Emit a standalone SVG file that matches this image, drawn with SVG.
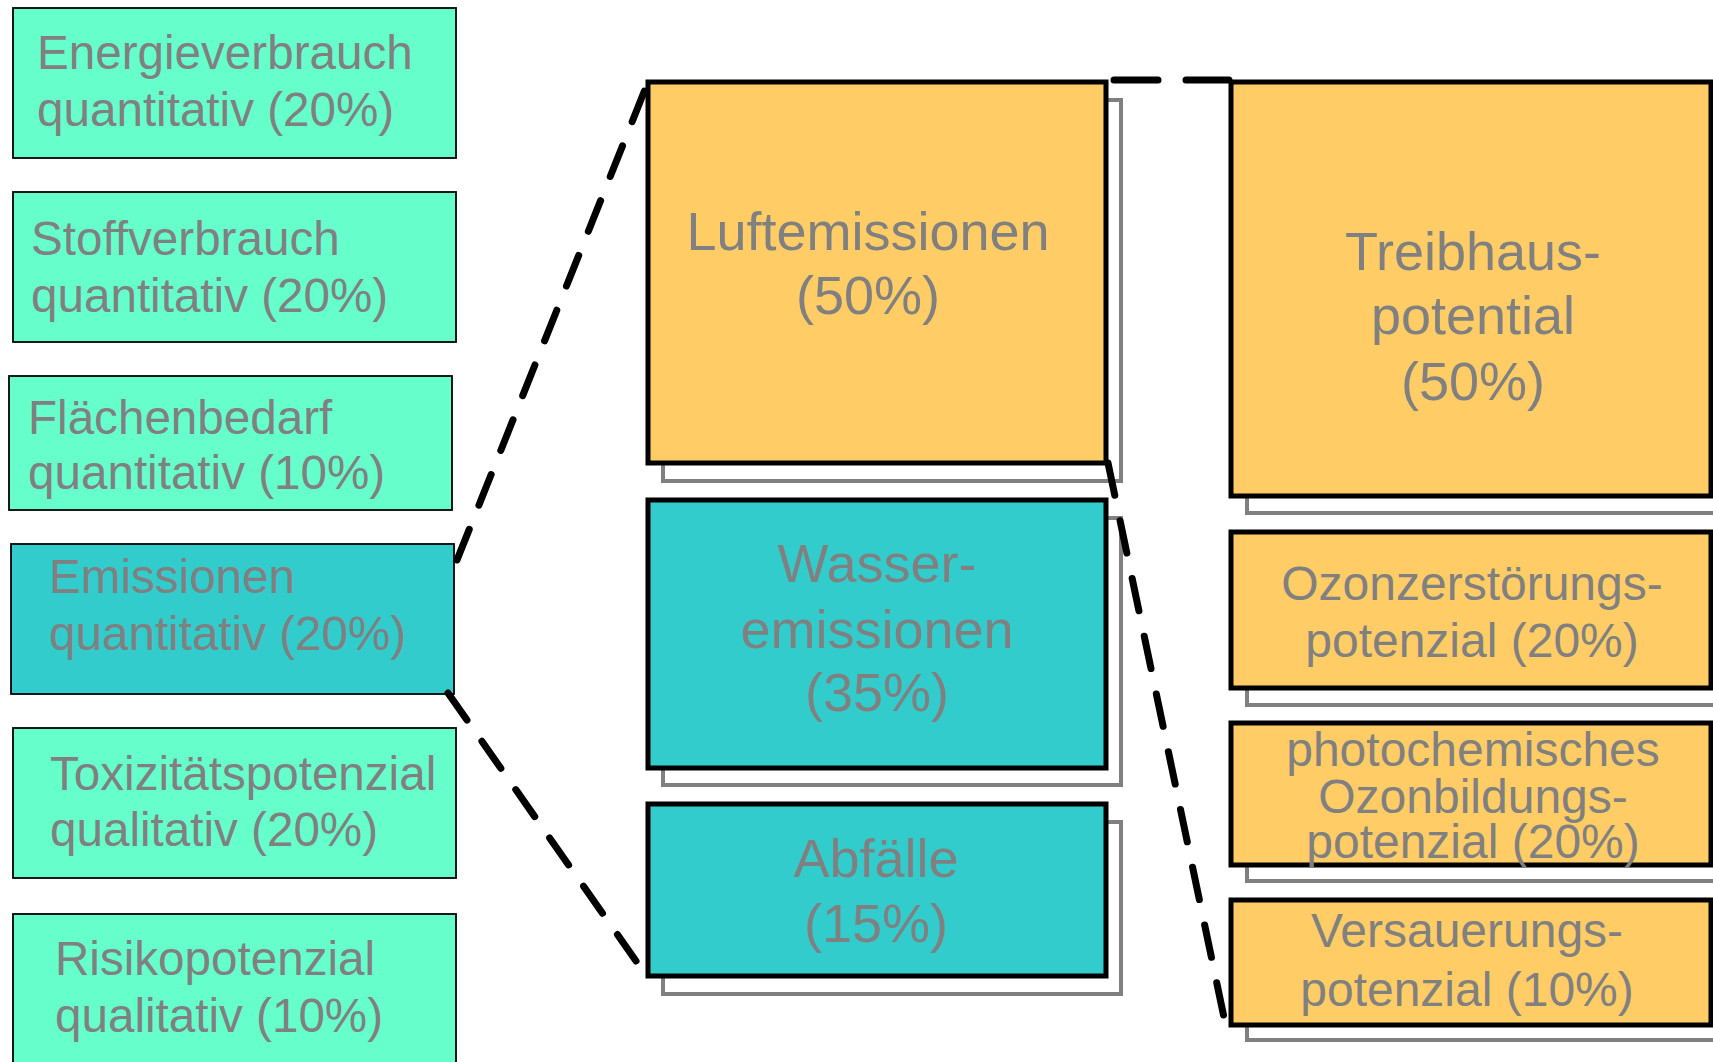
<svg xmlns="http://www.w3.org/2000/svg" width="1713" height="1062" viewBox="0 0 1713 1062">
<style>
.lb{fill:#66FFCC;stroke:#000;stroke-width:1.8}
.lb2{fill:#33CCCC;stroke:#000;stroke-width:1.8}
.sh{fill:#fff;stroke:#808080;stroke-width:4}
.ob{fill:#FFCC66;stroke:#000;stroke-width:5}
.tb{fill:#33CCCC;stroke:#000;stroke-width:5}
text{font-family:"Liberation Sans",Arial,sans-serif;fill:#808080}
.lt{font-size:47.6px}
.mt{font-size:54px;text-anchor:middle}
.st{font-size:48px;text-anchor:middle}
.con{fill:none;stroke:#000;stroke-width:7;stroke-dasharray:33 26;stroke-linecap:round}
.con2{stroke-dasharray:44 28}
</style>
<g id="energie"><rect class="lb" x="13" y="8" width="443" height="150"/><text class="lt" x="37" y="69">Energieverbrauch</text><text class="lt" x="37" y="126">quantitativ (20%)</text></g>
<g id="stoff"><rect class="lb" x="13" y="192" width="443" height="150"/><text class="lt" x="31" y="255">Stoffverbrauch</text><text class="lt" x="31" y="312">quantitativ (20%)</text></g>
<g id="flaeche"><rect class="lb" x="9" y="376" width="443" height="134"/><text class="lt" x="28" y="434">Flächenbedarf</text><text class="lt" x="28" y="489">quantitativ (10%)</text></g>
<g id="emissionen"><rect class="lb2" x="11" y="544" width="443" height="150"/><text class="lt" x="49" y="593">Emissionen</text><text class="lt" x="49" y="650">quantitativ (20%)</text></g>
<g id="toxizitaet"><rect class="lb" x="13" y="728" width="443" height="150"/><text class="lt" x="50" y="790">Toxizitätspotenzial</text><text class="lt" x="50" y="846">qualitativ (20%)</text></g>
<g id="risiko"><rect class="lb" x="13" y="914" width="443" height="160"/><text class="lt" x="55" y="975">Risikopotenzial</text><text class="lt" x="55" y="1032">qualitativ (10%)</text></g>

<g id="luft"><rect class="sh" x="663" y="100" width="458" height="381"/><rect class="ob" x="648" y="82" width="458" height="381"/><text class="mt" x="868" y="250">Luftemissionen</text><text class="mt" x="868" y="314">(50%)</text></g>
<g id="wasser"><rect class="sh" x="663" y="518" width="458" height="267"/><rect class="tb" x="648" y="500" width="458" height="268"/><text class="mt" x="877" y="582">Wasser-</text><text class="mt" x="877" y="648">emissionen</text><text class="mt" x="877" y="711">(35%)</text></g>
<g id="abfaelle"><rect class="sh" x="663" y="822" width="458" height="172"/><rect class="tb" x="648" y="804" width="458" height="172"/><text class="mt" x="876" y="877">Abfälle</text><text class="mt" x="876" y="942">(15%)</text></g>

<g id="treibhaus"><rect class="sh" x="1247" y="100" width="480" height="413"/><rect class="ob" x="1231" y="82" width="480" height="414"/><text class="mt" x="1473" y="270">Treibhaus-</text><text class="mt" x="1473" y="334">potential</text><text class="mt" x="1473" y="400">(50%)</text></g>
<g id="ozonzerst"><rect class="sh" x="1247" y="550" width="480" height="155"/><rect class="ob" x="1231" y="532" width="480" height="156"/><text class="st" x="1472" y="600">Ozonzerstörungs-</text><text class="st" x="1472" y="657">potenzial (20%)</text></g>
<g id="photochem"><rect class="sh" x="1247" y="741" width="480" height="140"/><rect class="ob" x="1231" y="723" width="480" height="142"/><text class="st" x="1473" y="766">photochemisches</text><text class="st" x="1473" y="813">Ozonbildungs-</text><text class="st" x="1473" y="858">potenzial (20%)</text></g>
<g id="versauerung"><rect class="sh" x="1247" y="918" width="480" height="122"/><rect class="ob" x="1231" y="900" width="480" height="125"/><text class="st" x="1467" y="947">Versauerungs-</text><text class="st" x="1467" y="1006">potenzial (10%)</text></g>

<g id="connectors">
<line class="con" x1="457" y1="560" x2="648" y2="82"/>
<line class="con" x1="448" y1="693" x2="636" y2="961"/>
<line class="con con2" x1="1114" y1="80" x2="1229" y2="80"/>
<line class="con" x1="1108" y1="463" x2="1226" y2="1027"/>
</g>
</svg>
